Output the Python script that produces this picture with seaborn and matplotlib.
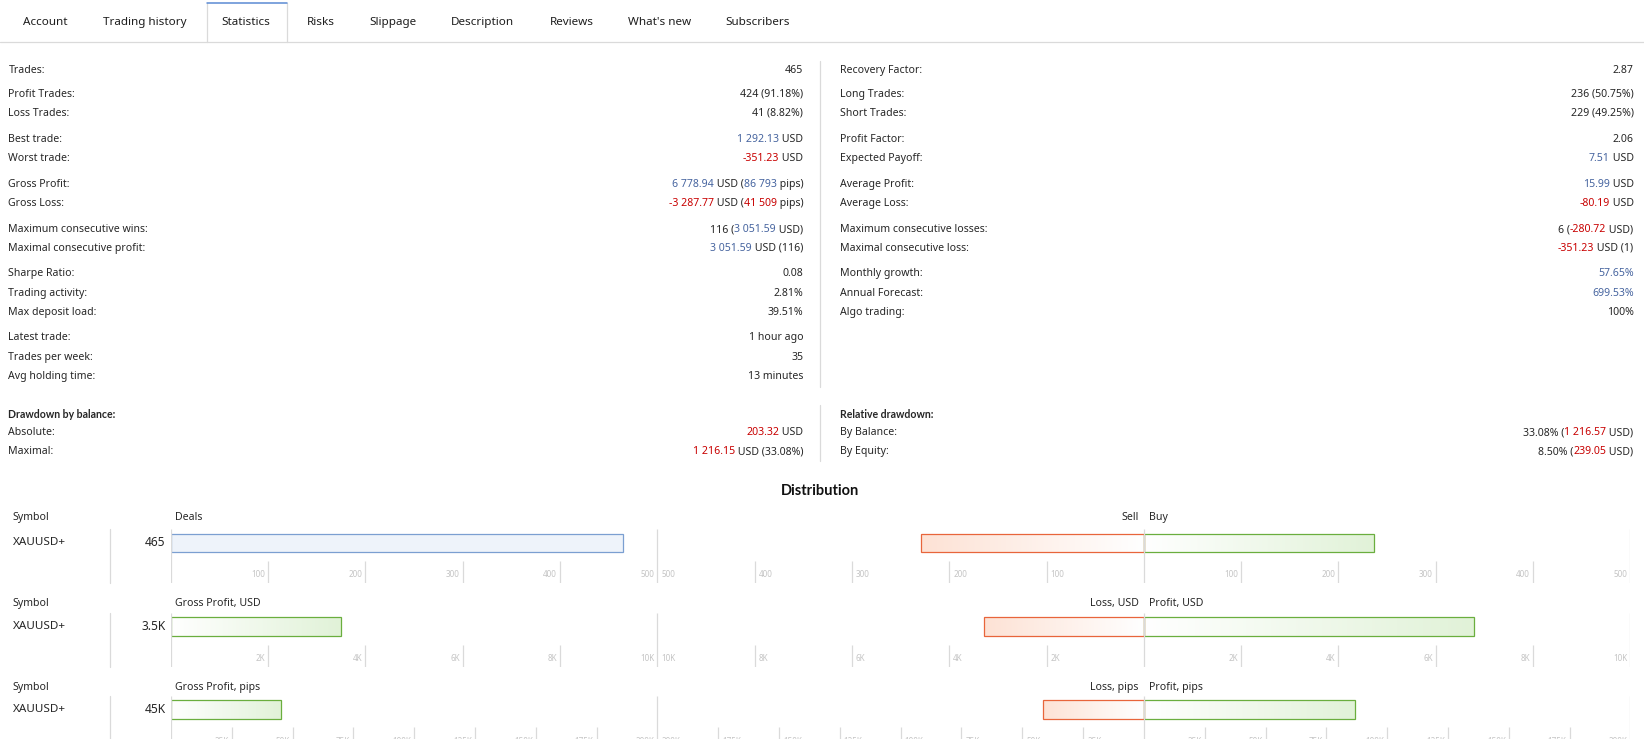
"""
Statistics tab of a trading signal page, redrawn with seaborn/matplotlib.

Top part: two columns of label/value rows.
Bottom part: the "Distribution" bar rows (deals, USD, pips) per symbol.
"""

import matplotlib
matplotlib.use("Agg")
import matplotlib.pyplot as plt
from matplotlib.colors import LinearSegmentedColormap
from matplotlib.lines import Line2D
from matplotlib.transforms import offset_copy
import numpy as np
import seaborn as sns

# ---------------------------------------------------------------- data
tabs = ["Account", "Trading history", "Statistics", "Risks", "Slippage",
        "Description", "Reviews", "What's new", "Subscribers"]
active_tab = "Statistics"

symbols = ["XAUUSD+"]
deals = [465]
sell_deals = [229]
buy_deals = [236]
net_profit_usd = [3491.17]
loss_usd = [3287.77]
profit_usd = [6778.94]
net_profit_pips = [45284]
loss_pips = [41509]
profit_pips = [86793]
net_labels = ["465", "3.5K", "45K"]

deal_ticks = [100, 200, 300, 400, 500]
usd_ticks = [2000, 4000, 6000, 8000, 10000]
pips_ticks = [25000, 50000, 75000, 100000, 125000, 150000, 175000, 200000]

# value parts: (text, colour key)  k = plain, b = blue, r = red
left_stats = [
    ("Trades:", [("465", "k")]),
    ("Profit Trades:", [("424 (91.18%)", "k")]),
    ("Loss Trades:", [("41 (8.82%)", "k")]),
    ("Best trade:", [("1 292.13", "b"), (" USD", "k")]),
    ("Worst trade:", [("-351.23", "r"), (" USD", "k")]),
    ("Gross Profit:", [("6 778.94", "b"), (" USD (", "k"), ("86 793", "b"), (" pips)", "k")]),
    ("Gross Loss:", [("-3 287.77", "r"), (" USD (", "k"), ("41 509", "r"), (" pips)", "k")]),
    ("Maximum consecutive wins:", [("116 (", "k"), ("3 051.59", "b"), (" USD)", "k")]),
    ("Maximal consecutive profit:", [("3 051.59", "b"), (" USD (116)", "k")]),
    ("Sharpe Ratio:", [("0.08", "k")]),
    ("Trading activity:", [("2.81%", "k")]),
    ("Max deposit load:", [("39.51%", "k")]),
    ("Latest trade:", [("1 hour ago", "k")]),
    ("Trades per week:", [("35", "k")]),
    ("Avg holding time:", [("13 minutes", "k")]),
]
right_stats = [
    ("Recovery Factor:", [("2.87", "k")]),
    ("Long Trades:", [("236 (50.75%)", "k")]),
    ("Short Trades:", [("229 (49.25%)", "k")]),
    ("Profit Factor:", [("2.06", "k")]),
    ("Expected Payoff:", [("7.51", "b"), (" USD", "k")]),
    ("Average Profit:", [("15.99", "b"), (" USD", "k")]),
    ("Average Loss:", [("-80.19", "r"), (" USD", "k")]),
    ("Maximum consecutive losses:", [("6 (", "k"), ("-280.72", "r"), (" USD)", "k")]),
    ("Maximal consecutive loss:", [("-351.23", "r"), (" USD (1)", "k")]),
    ("Monthly growth:", [("57.65%", "b")]),
    ("Annual Forecast:", [("699.53%", "b")]),
    ("Algo trading:", [("100%", "k")]),
]
balance_drawdown = [
    ("Absolute:", [("203.32", "r"), (" USD", "k")]),
    ("Maximal:", [("1 216.15", "r"), (" USD (33.08%)", "k")]),
]
relative_drawdown = [
    ("By Balance:", [("33.08% (", "k"), ("1 216.57", "r"), (" USD)", "k")]),
    ("By Equity:", [("8.50% (", "k"), ("239.05", "r"), (" USD)", "k")]),
]

# -------------------------------------------------------------- styling
sns.set_style("white")
plt.rcParams["font.family"] = ["Noto Sans", "DejaVu Sans"]
BOLD = ["Lato", "DejaVu Sans"]

TXT = "#262626"
COLORS = {"k": TXT, "b": "#46649f", "r": "#c80000"}
LINE = "#dadada"
TICK_TXT = "#c4c4c4"
GREEN_EDGE, GREEN_FILL = "#6aae3e", "#e1f2d8"
RED_EDGE, RED_FILL = "#e8653b", "#fde2d5"
BLUE_EDGE, BLUE_FILL = "#7b9fd1", "#eef3fa"
FS = 7.6

# layout frame: 1568 x 705 units, stretched over the 1644 x 739 px canvas
W, H = 1568.0, 705.0


def fx(x):
    return x / W


def fy(y):
    return 1 - y / H


fig = plt.figure(figsize=(16.44, 7.39), dpi=100)
renderer = fig.canvas.get_renderer()


def fline(xs, ys, color=LINE, lw=0.9):
    fig.add_artist(Line2D([fx(v) for v in xs], [fy(v) for v in ys],
                          color=color, lw=lw))


def label(x, y, s, **kw):
    kw.setdefault("fontsize", FS)
    kw.setdefault("color", TXT)
    return fig.text(fx(x), fy(y), s, va="center", **kw)


def value(x, y, parts):
    # right aligned, several colours: place the pieces from right to left
    right = fx(x)
    for text, key in reversed(parts):
        t = fig.text(right, fy(y), text, ha="right", va="center",
                     fontsize=FS, color=COLORS[key])
        right = t.get_window_extent(renderer).x0 / fig.bbox.width


# ----------------------------------------------------------------- tabs
tab_x = [22, 98, 211, 293, 352, 430, 524, 599, 692]
for name, x in zip(tabs, tab_x):
    label(x, 21, name, fontsize=8.4, color="#1e1e1e")
fline([0, W], [40, 40])
fline([197, 197], [3, 40])
fline([274, 274], [3, 40])
fline([197, 274], [3, 3], color="#5b8ad3", lw=1.1)

# ---------------------------------------------------------- statistics
rows_y = [67, 90, 108, 133, 151, 176, 194, 219, 237, 261, 280, 298, 322, 341, 359]
for (name, parts), y in zip(left_stats, rows_y):
    label(8, y, name)
    value(766, y, parts)
for (name, parts), y in zip(right_stats, rows_y):
    label(801, y, name)
    value(1558, y, parts)
fline([782, 782], [58, 369])

label(8, 395, "Drawdown by balance:", family=BOLD, fontweight="bold")
label(801, 395, "Relative drawdown:", family=BOLD, fontweight="bold")
for (name, parts), y in zip(balance_drawdown, [413, 431]):
    label(8, y, name)
    value(766, y, parts)
for (name, parts), y in zip(relative_drawdown, [413, 431]):
    label(801, y, name)
    value(1558, y, parts)
fline([782, 782], [386, 440])

# -------------------------------------------------------- distribution
label(782, 468, "Distribution", ha="center", fontsize=10.5, family=BOLD,
      fontweight="bold", color="#111111")

PX = 30.0  # pixels per category unit on the bar axes


def gradient(ax, patch, color, towards_right=True):
    x0, w = patch.get_x(), patch.get_width()
    y0, h = patch.get_y(), patch.get_height()
    xa, xb = sorted([x0, x0 + w])
    grad = np.linspace(0, 1, 256)[None, :]
    if not towards_right:
        grad = grad[:, ::-1]
    cmap = LinearSegmentedColormap.from_list("fade", ["white", color])
    im = ax.imshow(grad, extent=[xa, xb, y0 + h, y0], aspect="auto",
                   cmap=cmap, zorder=0.5, interpolation="bilinear")
    im.set_clip_path(patch)
    patch.set_facecolor("none")


def bar_axis(x0, x1, cy):
    ax = fig.add_axes([fx(x0), fy(cy + 38), fx(x1) - fx(x0), 51 / H])
    ax.set_axis_off()
    return ax


def finish_axis(ax, xlim, ticks, fmt, mirrored):
    ax.set_xlim(*xlim)
    ax.set_ylim(38 / PX, -13 / PX)
    full = [0, xlim[1]] + ([xlim[0]] if mirrored else [])
    ax.vlines(full, -13 / PX, 38 / PX, color=LINE, lw=0.9, zorder=3)
    short = [t for t in ticks if t < xlim[1]]
    if mirrored:
        short = short + [-t for t in short]
    ax.vlines(short, 17 / PX, 38 / PX, color=LINE, lw=0.9, zorder=3)
    left_off = offset_copy(ax.transData, fig=fig, x=-3, units="dots")
    right_off = offset_copy(ax.transData, fig=fig, x=4, units="dots")
    for t in ticks:
        ax.text(t, 30 / PX, fmt(t), transform=left_off, ha="right",
                va="center", fontsize=5.8, color=TICK_TXT)
        if mirrored:
            ax.text(-t, 30 / PX, fmt(t), transform=right_off, ha="left",
                    va="center", fontsize=5.8, color=TICK_TXT)


def k_fmt(v):
    return f"{int(v // 1000)}K"


rows = [
    dict(cy=518, hy=494, head=("Deals", "Sell", "Buy"), left=deals,
         neg=sell_deals, pos=buy_deals, ticks=deal_ticks, fmt=str,
         solid=True),
    dict(cy=598, hy=576, head=("Gross Profit, USD", "Loss, USD", "Profit, USD"),
         left=net_profit_usd, neg=loss_usd, pos=profit_usd, ticks=usd_ticks,
         fmt=k_fmt, solid=False),
    dict(cy=677, hy=656, head=("Gross Profit, pips", "Loss, pips", "Profit, pips"),
         left=net_profit_pips, neg=loss_pips, pos=profit_pips, ticks=pips_ticks,
         fmt=k_fmt, solid=False),
]

for r, net in zip(rows, net_labels):
    cy, hy = r["cy"], r["hy"]
    xmax = r["ticks"][-1]
    label(12, hy, "Symbol")
    label(167, hy, r["head"][0])
    label(1086, hy, r["head"][1], ha="right")
    label(1096, hy, r["head"][2])
    label(12, cy, symbols[0], fontsize=8.4)
    label(158, cy, net, ha="right", fontsize=8.6)
    fline([105, 105], [cy - 13, cy + 38])

    # left panel: one bar per symbol
    ax = bar_axis(163, 627, cy)
    if r["solid"]:
        sns.barplot(x=r["left"], y=symbols, orient="h", width=18 / PX,
                    color=BLUE_FILL, saturation=1, edgecolor=BLUE_EDGE,
                    linewidth=0.9, errorbar=None, ax=ax)
    else:
        sns.barplot(x=r["left"], y=symbols, orient="h", width=18 / PX,
                    color=GREEN_FILL, saturation=1, edgecolor=GREEN_EDGE,
                    linewidth=0.9, errorbar=None, ax=ax)
        gradient(ax, ax.patches[-1], GREEN_FILL)
    finish_axis(ax, (0, xmax), r["ticks"], r["fmt"], mirrored=False)

    # right panel: negative side vs positive side
    ax = bar_axis(627, 1555, cy)
    sns.barplot(x=[-v for v in r["neg"]], y=symbols, orient="h",
                width=18 / PX, color=RED_FILL, saturation=1,
                edgecolor=RED_EDGE, linewidth=0.9, errorbar=None, ax=ax)
    gradient(ax, ax.patches[-1], RED_FILL, towards_right=False)
    sns.barplot(x=r["pos"], y=symbols, orient="h", width=18 / PX,
                color=GREEN_FILL, saturation=1, edgecolor=GREEN_EDGE,
                linewidth=0.9, errorbar=None, ax=ax)
    gradient(ax, ax.patches[-1], GREEN_FILL)
    finish_axis(ax, (-xmax, xmax), r["ticks"], r["fmt"], mirrored=True)

fig.savefig("out.png", dpi=100, facecolor="white")
